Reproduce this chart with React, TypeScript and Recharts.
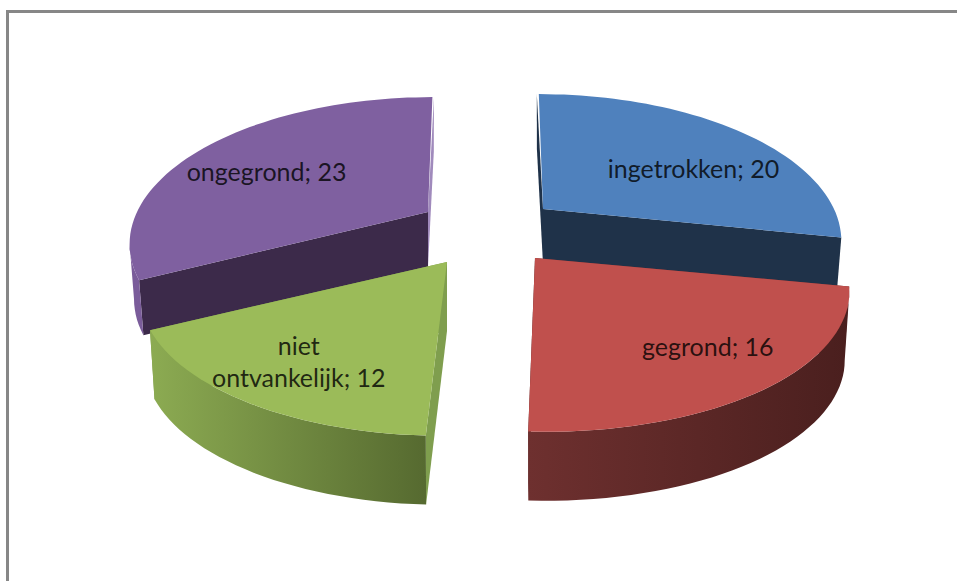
import { PieChart, Pie } from 'recharts';

// drawn back to front, so the pie starts at ongegrond
const categories = ['ongegrond', 'ingetrokken', 'gegrond', 'niet ontvankelijk'];
const values = [23, 20, 16, 12];

const topColors = ['#7f60a0', '#4f81bd', '#c0504d', '#9bbb59'];
const startFaceColors = ['#3c2a4a', '#1f3249', '#6e302f', '#7f9e4e'];
const endFaceColors = ['#a08abc', '#1f3249', '#4f2120', '#7f9e4e'];
const rimFrom = ['#7a5c9a', '#1f3249', '#6e302f', '#8cab52'];
const rimTo = ['#7f60a0', '#1f3249', '#4a1f1e', '#566a30'];

// explosion of each slice from the pie centre
const explodeX = [-59, 56, 48, -40];
const explodeY = [-23, -26, 23, 27];
// slices further back come out a bit narrower and thinner
const widthScale = [0.97, 0.97, 1.02, 1];
const depths = [55, 55, 69, 69];
const leanFactor = [0.09, 0.09, 0.17, 0.09];
const startFaceShift = [0, -2, 0, 0];
const endFaceShift = [1.5, 0, 0, 0];
const labelNudgeX = [-2, 8, 19, -16];
const labelNudgeY = [16, 25, 12, 1];

const chartData = categories.map((name, i) => ({ name, value: values[i] }));
const total = values.reduce((a, b) => a + b, 0);
const firstAngle = 90 + (values[0] / total) * 360;

const persp = 0.204;
const squash = 0.461;
const bottomScale = 0.985;

// pie angle (degrees, math style) to screen position on the tilted disc
function project(cx: number, cy: number, r: number, angle: number, i: number, f = 1) {
  const rad = (angle * Math.PI) / 180;
  const u = Math.cos(rad) * f;
  const v = Math.sin(rad) * f;
  const w = 1 + persp * v;
  return {
    x: cx + explodeX[i] + (r * widthScale[i] * u) / w - (explodeX[i] * leanFactor[i] * v) / w,
    y: cy + explodeY[i] - (r * squash * v) / w,
  };
}

type P = { x: number; y: number };
const pathOf = (pts: P[]) => 'M' + pts.map((p) => `${p.x.toFixed(1)},${p.y.toFixed(1)}`).join('L') + 'Z';

function Slice3D(props: any) {
  const { cx, cy, outerRadius, startAngle, endAngle } = props;
  const name = props.name ?? props.payload?.name;
  const i = categories.indexOf(name);
  const apex = { x: cx + explodeX[i], y: cy + explodeY[i] };
  const down = (p: P): P => ({ x: apex.x + (p.x - apex.x) * bottomScale, y: p.y + depths[i] });

  const arc: P[] = [];
  const frontArc: P[] = [];
  const steps = Math.ceil(Math.abs(endAngle - startAngle) / 2);
  for (let s = 0; s <= steps; s++) {
    const angle = startAngle + ((endAngle - startAngle) * s) / steps;
    const pt = project(cx, cy, outerRadius, angle, i);
    arc.push(pt);
    // the rim shows from the widest point of the disc forward
    if (Math.sin((angle * Math.PI) / 180) <= -persp) frontArc.push(pt);
  }
  const first = { x: arc[0].x + startFaceShift[i], y: arc[0].y };
  const lastPt = arc[arc.length - 1];
  const last = { x: lastPt.x + endFaceShift[i], y: lastPt.y };
  const xs = arc.map((p) => p.x);
  const gradId = `rim-${i}`;

  return (
    <g>
      <defs>
        <linearGradient id={gradId} gradientUnits="userSpaceOnUse" x1={Math.min(...xs)} x2={Math.max(...xs)} y1={0} y2={0}>
          <stop offset="0%" stopColor={rimFrom[i]} />
          <stop offset="100%" stopColor={rimTo[i]} />
        </linearGradient>
      </defs>
      <path d={pathOf([apex, last, down(last), down(apex)])} fill={endFaceColors[i]} />
      <path d={pathOf([apex, first, down(first), down(apex)])} fill={startFaceColors[i]} />
      {frontArc.length > 1 && <path d={pathOf([...frontArc, ...frontArc.map(down).reverse()])} fill={`url(#${gradId})`} />}
      <path d={pathOf([apex, ...arc])} fill={topColors[i]} />
    </g>
  );
}

function SliceLabel(props: any) {
  const { cx, cy, outerRadius, midAngle, name, value } = props;
  const i = categories.indexOf(name);
  const p = project(cx, cy, outerRadius, midAngle, i, 0.7);
  const words = name.split(' ');
  const lines = words.length > 1 ? [words[0], `${words.slice(1).join(' ')}; ${value}`] : [`${name}; ${value}`];
  return (
    <text
      x={p.x + labelNudgeX[i]}
      y={p.y + labelNudgeY[i]}
      textAnchor="middle"
      fontFamily="Lato, sans-serif"
      fontSize={25}
      fill="#000"
      fillOpacity={0.8}
    >
      {lines.map((line, k) => (
        <tspan key={line} x={p.x + labelNudgeX[i]} dy={k === 0 ? 0 : 32}>
          {line}
        </tspan>
      ))}
    </text>
  );
}

export default function App() {
  return (
    <div style={{ position: 'absolute', left: 0, top: 0, width: 957, height: 581, background: '#fff', overflow: 'hidden' }}>
      <div
        style={{
          position: 'absolute',
          left: 6,
          top: 10,
          width: 960,
          height: 600,
          borderTop: '3px solid #878787',
          borderLeft: '3px solid #878787',
        }}
      />
      <div style={{ position: 'absolute', left: 0, top: 0 }}>
        <PieChart width={957} height={581} margin={{ top: 0, right: 0, bottom: 0, left: 0 }}>
          <Pie
            data={chartData}
            dataKey="value"
            nameKey="name"
            cx={487}
            cy={235}
            outerRadius={300}
            startAngle={firstAngle}
            endAngle={firstAngle - 360}
            stroke="none"
            shape={Slice3D}
            label={SliceLabel}
            labelLine={false}
            isAnimationActive={false}
          />
        </PieChart>
      </div>
    </div>
  );
}
